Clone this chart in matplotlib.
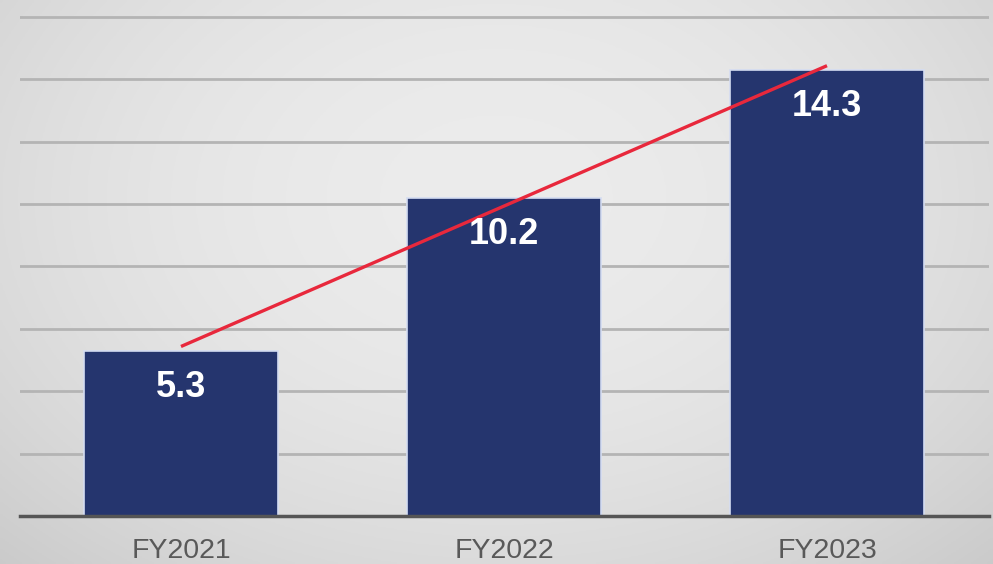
import numpy as np
import matplotlib
matplotlib.use("Agg")
import matplotlib.pyplot as plt

categories = ["FY2021", "FY2022", "FY2023"]
values = [5.3, 10.2, 14.3]
value_labels = ["5.3", "10.2", "14.3"]

W, H, DPI = 993, 564, 100
fig = plt.figure(figsize=(W / DPI, H / DPI), dpi=DPI)

# background radial gradient
bg = fig.add_axes([0, 0, 1, 1], zorder=-10)
yy, xx = np.mgrid[0:1:200j, 0:1:350j]
r = np.sqrt(((xx - 0.5) / 0.6) ** 2 + ((yy - 0.35) / 0.75) ** 2)
g = 0.925 - 0.09 * np.clip(r, 0, 1.3) ** 2
img = np.dstack([g, g, g])
bg.imshow(img, aspect="auto", extent=[0, 1, 0, 1], origin="upper")
bg.axis("off")

px = 31.2
ax = fig.add_axes([19.5 / W, 48 / H, 969 / W, 516 / H])
ax.patch.set_alpha(0)
x = np.arange(len(categories))
ax.bar(x, values, width=0.6, color="#25356e", edgecolor="#d4dcf2", linewidth=1.2, zorder=3)

# linear trendline
coef = np.polyfit(x, values, 1)
ax.plot(x, np.polyval(coef, x), color="#e8283c", linewidth=2.4, zorder=4,
        solid_capstyle="butt")

for xi, v, lab in zip(x, values, value_labels):
    ax.annotate(lab, (xi, v), xytext=(0, -37 * 72 / DPI), textcoords="offset points",
                ha="center", va="center", color="white", fontsize=26,
                fontweight="bold", family="Liberation Sans", zorder=5)

ax.set_xlim(-0.5, 2.5)
ax.set_ylim(0, 516 / px)
ax.set_yticks(np.arange(2, 17, 2))
ax.yaxis.grid(True, color="#b4b4b4", linewidth=2, zorder=0)
ax.set_axisbelow(True)
ax.tick_params(axis="y", left=False, labelleft=False)
ax.tick_params(axis="x", bottom=False, pad=12)
ax.set_xticks(x)
ax.set_xticklabels(categories, fontsize=20.5, color="#595959", family="Liberation Sans")
for s in ["top", "right", "left"]:
    ax.spines[s].set_visible(False)
ax.spines["bottom"].set_color("#555555")
ax.spines["bottom"].set_linewidth(2.5)
ax.spines["bottom"].set_zorder(6)

fig.savefig("out.png", dpi=DPI)
